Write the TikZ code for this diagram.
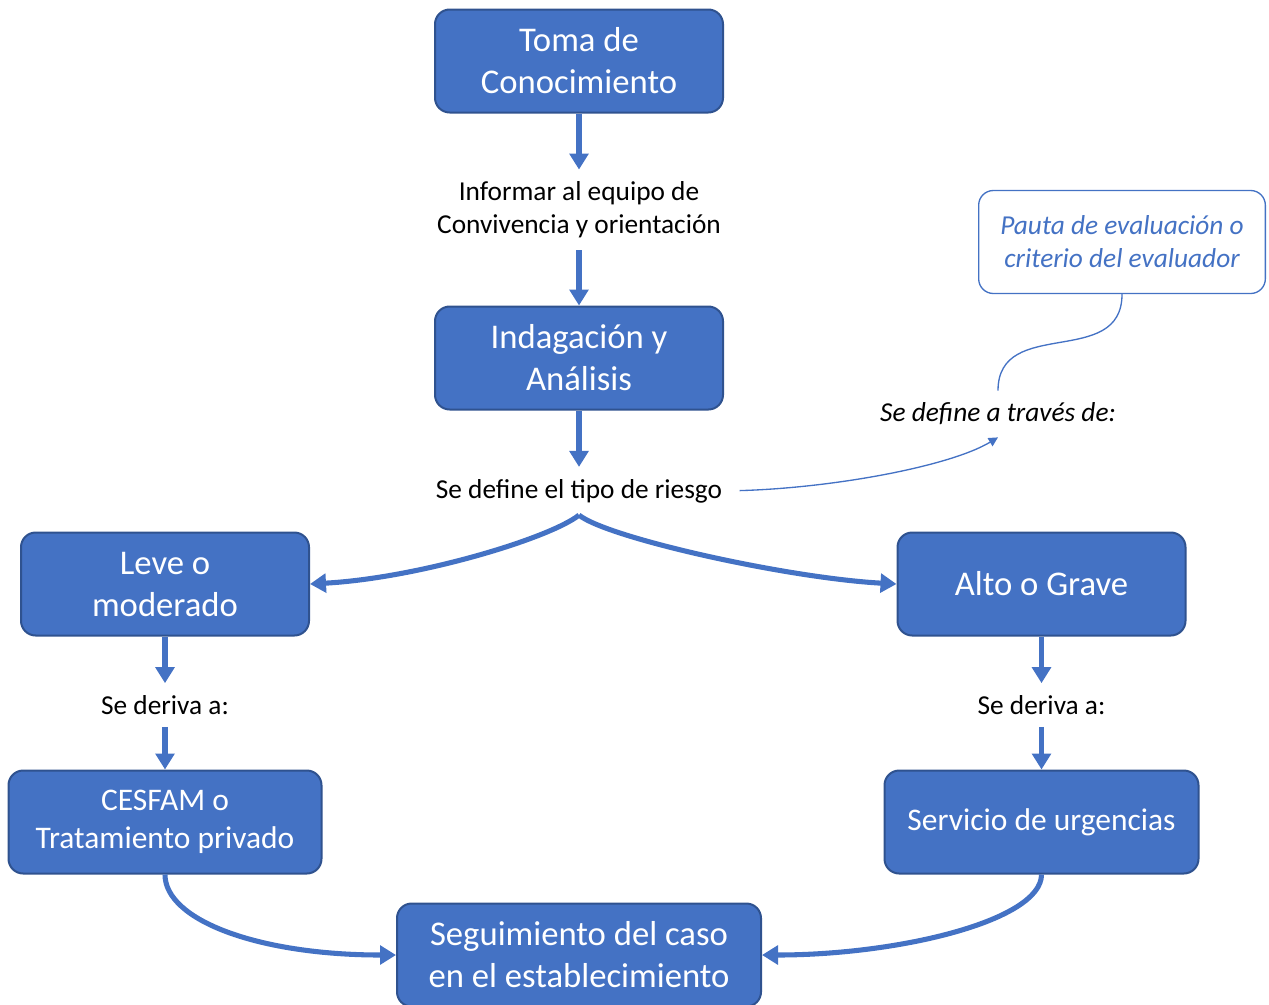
\documentclass[tikz,border=0pt]{standalone}
\usepackage{fontspec}
\setmainfont{Carlito}
\usetikzlibrary{arrows.meta}

\definecolor{officeblue}{HTML}{4472C4}
\definecolor{officeline}{HTML}{2F528F}

\tikzset{
    stagebox/.style={draw=officeline, line width=1.5pt, fill=officeblue, rounded corners=11pt,
        text=white, align=center, inner sep=0pt, minimum width=216pt, minimum height=77.25pt,
        font=\fontsize{26}{31.5}\selectfont},
    stepnote/.style={align=center, inner xsep=2pt, inner ysep=9pt,
        font=\fontsize{20.5}{24.75}\selectfont},
    flow/.style={draw=officeblue, line width=3.8pt, -{Triangle[width=14pt,length=12pt]}},
    thinflow/.style={draw=officeblue, line width=1pt, -{Triangle[width=7pt,length=7pt]}},
}

\begin{document}
\begin{tikzpicture}[x=0.75pt, y=-0.75pt]
    \useasboundingbox (0,0) rectangle (1269,1004);

    % Main column
    \node[stagebox] (toma) at (579,61) {Toma de\\Conocimiento};
    \node[stepnote] (informar) at (579,210) {Informar al equipo de\\Convivencia y orientación};
    \node[stagebox] (indagacion) at (579,358) {Indagación y\\Análisis};
    \node[stepnote] (riesgo) at (579,491) {Se define el tipo de riesgo};

    \draw[flow] (toma.south) -- (informar.north);
    \draw[flow] (informar.south) -- (indagacion.north);
    \draw[flow] (indagacion.south) -- (riesgo.north);

    % Criterion
    \node[stepnote, font=\itshape\fontsize{20.5}{24.75}\selectfont] (traves) at (998,414) {Se define a través de:};
    \node[draw=officeblue, line width=1pt, fill=white, rounded corners=11pt, align=center,
        minimum width=215pt, minimum height=77.25pt, text=officeblue,
        font=\itshape\fontsize{20.5}{24.75}\selectfont] (pauta) at (1122,242) {Pauta de evaluación o\\criterio del evaluador};

    \draw[thinflow, shorten <=11pt] (riesgo.east) .. controls +(108,-3) and +(-48,29) .. (traves.south);
    \draw[officeblue, line width=1pt] (traves.north) .. controls +(0,-75) and +(0,75) .. (pauta.south);

    % Leve o moderado
    \node[stagebox] (leve) at (165,584) {Leve o\\moderado};
    \node[stepnote] (derivaleve) at (165,705) {Se deriva a:};
    \node[stagebox, minimum width=234.75pt, font=\fontsize{23.6}{28.5}\selectfont] (cesfam) at (165,822) {CESFAM o\\Tratamiento privado};

    \draw[flow] (riesgo.south) .. controls +(-29,23) and +(109,-6) .. (leve.east);
    \draw[flow] (leve.south) -- (derivaleve.north);
    \draw[flow] (derivaleve.south) -- (cesfam.north);

    % Alto o grave
    \node[stagebox] (alto) at (1041.5,584) {Alto o Grave};
    \node[stepnote] (derivaalto) at (1041.5,705) {Se deriva a:};
    \node[stagebox, minimum width=235.5pt, font=\fontsize{23.6}{28.5}\selectfont] (servicio) at (1041.5,822) {Servicio de urgencias};

    \draw[flow] (riesgo.south) .. controls +(29,23) and +(-109,-6) .. (alto.west);
    \draw[flow] (alto.south) -- (derivaalto.north);
    \draw[flow] (derivaalto.south) -- (servicio.north);

    % Seguimiento
    \node[stagebox, minimum width=273pt] (seguimiento) at (579,955) {Seguimiento del caso\\en el establecimiento};

    \draw[flow] (cesfam.south) .. controls +(0,46) and +(-137,0) .. (seguimiento.west);
    \draw[flow] (servicio.south) .. controls +(0,46) and +(137,0) .. (seguimiento.east);
\end{tikzpicture}
\end{document}
